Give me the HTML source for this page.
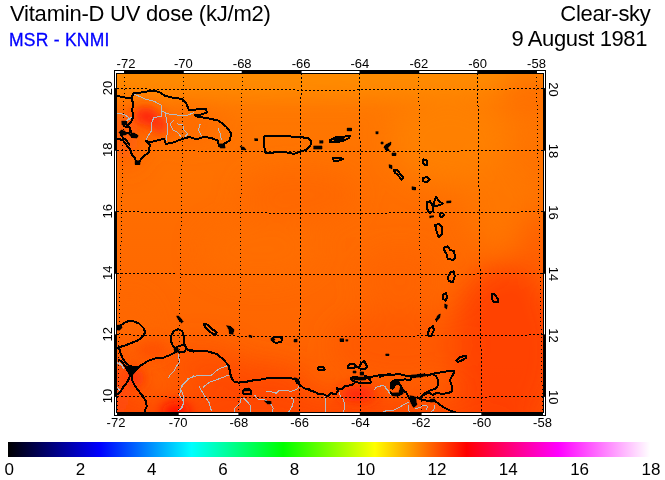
<!DOCTYPE html>
<html lang="en"><head><meta charset="utf-8"><title>Vitamin-D UV dose</title>
<style>
html,body{margin:0;padding:0;background:#fff;}
body{width:665px;height:480px;overflow:hidden;position:relative;font-family:"Liberation Sans",Arial,Helvetica,sans-serif;color:#000;}
.t{position:absolute;white-space:nowrap;line-height:1;}
#title{left:10px;top:3px;font-size:22px;letter-spacing:-0.22px;}
#src{left:9px;top:31.8px;font-size:17.5px;letter-spacing:0.25px;color:#0000ff;-webkit-text-stroke:0.3px #0000ff;}
#sky{right:14.5px;top:3px;font-size:22px;letter-spacing:-0.3px;text-align:right;}
#date{right:18px;top:27.7px;font-size:22px;letter-spacing:-0.4px;text-align:right;}
svg{position:absolute;left:0;top:0;}
svg text{font-family:"Liberation Sans",Arial,Helvetica,sans-serif;fill:#000;}
</style></head><body>
<svg width="665" height="480" viewBox="0 0 665 480">
<defs>
<clipPath id="mc"><rect x="117" y="74" width="426" height="338"/></clipPath>
<filter id="bl" x="-20%" y="-20%" width="140%" height="140%"><feGaussianBlur stdDeviation="14"/></filter>
<filter id="b2" x="-20%" y="-20%" width="140%" height="140%"><feGaussianBlur stdDeviation="6"/></filter>
<linearGradient id="bg" x1="0" y1="0" x2="0" y2="1">
<stop offset="0" stop-color="#ff8600"/><stop offset="0.10" stop-color="#ff7800"/><stop offset="0.45" stop-color="#ff6c00"/><stop offset="0.75" stop-color="#ff6600"/><stop offset="0.9" stop-color="#ff6200"/><stop offset="1" stop-color="#ff5600"/>
</linearGradient>
<linearGradient id="cb" x1="0" y1="0" x2="1" y2="0">
<stop offset="0" stop-color="#000"/><stop offset="0.142857" stop-color="#00f"/><stop offset="0.285714" stop-color="#0ff"/><stop offset="0.428571" stop-color="#0f0"/><stop offset="0.571429" stop-color="#ff0"/><stop offset="0.714286" stop-color="#f00"/><stop offset="0.857143" stop-color="#f0f"/><stop offset="1" stop-color="#fff"/>
</linearGradient>
</defs>
<rect x="114" y="70" width="432" height="346" fill="#000"/>
<g clip-path="url(#mc)">
<rect x="117" y="74" width="426" height="338" fill="url(#bg)"/>
<g filter="url(#bl)"><ellipse cx="300" cy="66" rx="260" ry="26" fill="#ff8c00" opacity="1"/><ellipse cx="450" cy="140" rx="60" ry="45" fill="#ff8400" opacity="0.7"/><ellipse cx="505" cy="205" rx="40" ry="45" fill="#ff7a00" opacity="0.7"/><ellipse cx="530" cy="92" rx="30" ry="22" fill="#ff6a00" opacity="0.8"/><ellipse cx="535" cy="250" rx="18" ry="40" fill="#ff5a00" opacity="0.7"/><ellipse cx="125" cy="135" rx="14" ry="30" fill="#ff5010" opacity="0.9"/><ellipse cx="190" cy="125" rx="35" ry="15" fill="#ff6008" opacity="0.6"/><ellipse cx="300" cy="195" rx="60" ry="25" fill="#ff6400" opacity="0.6"/><ellipse cx="260" cy="250" rx="60" ry="30" fill="#ff7200" opacity="0.5"/><ellipse cx="400" cy="280" rx="40" ry="30" fill="#ff6000" opacity="0.6"/><ellipse cx="300" cy="440" rx="240" ry="42" fill="#ff4a00" opacity="1"/><ellipse cx="505" cy="350" rx="55" ry="85" fill="#ff3e00" opacity="0.9"/><ellipse cx="250" cy="385" rx="60" ry="22" fill="#ff4408" opacity="0.8"/><ellipse cx="200" cy="365" rx="40" ry="20" fill="#ff4c08" opacity="0.7"/><ellipse cx="130" cy="330" rx="20" ry="30" fill="#ff6a00" opacity="0.7"/><ellipse cx="118" cy="385" rx="14" ry="40" fill="#ff4408" opacity="0.9"/><ellipse cx="400" cy="345" rx="70" ry="35" fill="#ff5400" opacity="0.6"/></g>
<g filter="url(#b2)"><ellipse cx="146" cy="116" rx="12" ry="9" fill="#ff2010" opacity="1"/><ellipse cx="160" cy="125" rx="9" ry="9" fill="#ff2810" opacity="0.9"/><ellipse cx="176" cy="412" rx="14" ry="10" fill="#ff1000" opacity="1"/><ellipse cx="135" cy="378" rx="10" ry="9" fill="#ff3008" opacity="0.9"/><ellipse cx="152" cy="350" rx="16" ry="10" fill="#ff4808" opacity="0.7"/><ellipse cx="358" cy="394" rx="18" ry="8" fill="#ff2808" opacity="1"/></g>
<g fill="none" stroke="#b4bcc4" stroke-width="1" stroke-linejoin="round" shape-rendering="crispEdges">
<path d="M133.5 93.8 L139.0 96.2 L146.5 99.5 L154.0 101.2 L161.0 105.0 L162.0 111.2 L161.5 116.2 L154.0 117.5 L151.0 123.8 L152.0 130.0 L147.8 136.2 L146.0 141.2"/><path d="M162.0 111.2 L167.8 113.8 L176.5 115.0 L186.5 115.8 L194.0 112.5"/><path d="M165.2 113.0 L166.5 120.0 L167.8 127.5 L167.0 135.0 L165.8 142.5"/><path d="M174.0 120.0 L170.2 123.8 L172.8 130.0 L177.8 132.5 L181.5 137.5"/><path d="M176.5 123.8 L182.8 125.0 L184.0 130.0 L187.8 133.8 L185.2 136.2"/><path d="M200.2 123.8 L198.5 130.0 L201.5 136.2"/><path d="M217.8 127.5 L220.2 133.8 L221.5 140.0"/><path d="M117.0 113.0 L124.0 114.5 L129.0 117.5 L126.5 121.2"/><path d="M133.5 115.5 L125.2 122.5"/><path d="M116.5 364.1 L119.6 362.9 L122.1 365.4 L124.6 366.0"/><path d="M179.6 351.6 L178.4 356.0 L179.6 362.2 L176.5 366.0 L174.0 371.0 L170.2 374.8 L168.4 377.9"/><path d="M117.1 386.9 L120.2 391.2"/><path d="M194.0 375.6 L189.0 378.8 L184.0 383.8 L180.2 388.8 L182.8 393.8 L184.0 401.2 L182.1 407.5 L177.8 411.2"/><path d="M227.8 365.5 L219.0 368.8 L211.5 375.0 L199.0 375.0 L187.8 378.8 L181.5 386.2 L179.5 395.0 L184.0 402.5 L180.2 410.0"/><path d="M199.0 386.2 L204.0 395.0 L209.0 402.5 L211.5 411.2"/><path d="M229.0 375.0 L219.0 378.8 L209.0 382.5 L202.8 387.5"/><path d="M117.0 362.5 L121.5 365.5 L124.0 368.8"/><path d="M265.6 392.0 L270.0 391.4 L276.2 393.2 L278.8 390.8 L285.0 390.1 L291.2 391.4 L297.5 388.9 L300.0 385.1"/><path d="M254.4 395.1 L258.8 399.5 L266.2 400.1 L271.2 404.5 L273.1 408.2 L272.5 412.0"/><path d="M243.8 398.2 L247.5 402.0 L250.6 405.8 L250.0 412.0"/><path d="M241.2 398.2 L240.0 403.2 L235.0 408.2 L234.4 412.0"/><path d="M290.0 397.0 L293.8 399.5 L292.5 405.8 L288.8 412.0"/><path d="M323.8 394.4 L325.6 398.8 L325.0 403.8 L326.0 412.5"/><path d="M338.8 391.9 L340.6 396.2 L343.8 400.0 L344.4 405.0 L343.8 412.5"/><path d="M374.4 390.0 L375.6 387.5 L381.2 385.6 L385.0 386.2 L387.5 390.0 L390.0 393.1"/><path d="M380.0 386.2 L383.8 385.6 L387.5 390.6 L390.6 395.0"/><path d="M382.5 412.5 L387.5 410.0 L393.8 410.0 L400.0 406.9 L405.0 403.8 L408.8 402.5"/><path d="M408.8 405.0 L408.1 410.0 L410.0 412.5"/><path d="M415.0 408.8 L420.0 407.5 L423.8 405.0 L427.5 406.2 L426.2 410.0"/><path d="M435.0 405.0 L433.8 410.0 L430.0 412.5"/>
</g>
<g fill="none" stroke="#000" stroke-width="1" stroke-dasharray="2 2" shape-rendering="crispEdges">
<path d="M301.1 73.0 L299.6 412.0"/><path d="M359.9 73.0 L360.4 412.0"/><path d="M477.6 73.0 L481.8 412.0"/><path d="M117.0 396.4 L147.0 396.8 L177.0 397.1 L207.0 397.3 L237.0 397.5 L267.0 397.7 L297.0 397.8 L327.0 397.8 L357.0 397.8 L387.0 397.7 L417.0 397.6 L447.0 397.4 L477.0 397.1 L507.0 396.8 L537.0 396.5 L543.0 396.4"/><path d="M117.0 334.8 L147.0 335.2 L177.0 335.5 L207.0 335.8 L237.0 336.0 L267.0 336.1 L297.0 336.2 L327.0 336.2 L357.0 336.2 L387.0 336.1 L417.0 336.0 L447.0 335.8 L477.0 335.6 L507.0 335.3 L537.0 334.9 L543.0 334.8"/><path d="M117.0 273.3 L147.0 273.6 L177.0 274.0 L207.0 274.2 L237.0 274.4 L267.0 274.6 L297.0 274.6 L327.0 274.7 L357.0 274.7 L387.0 274.6 L417.0 274.4 L447.0 274.3 L477.0 274.0 L507.0 273.7 L537.0 273.4 L543.0 273.3"/><path d="M117.0 211.7 L147.0 212.1 L177.0 212.4 L207.0 212.7 L237.0 212.9 L267.0 213.0 L297.0 213.1 L327.0 213.1 L357.0 213.1 L387.0 213.0 L417.0 212.9 L447.0 212.7 L477.0 212.5 L507.0 212.2 L537.0 211.8 L543.0 211.7"/><path d="M117.0 150.2 L147.0 150.5 L177.0 150.8 L207.0 151.1 L237.0 151.3 L267.0 151.4 L297.0 151.5 L327.0 151.6 L357.0 151.5 L387.0 151.5 L417.0 151.3 L447.0 151.1 L477.0 150.9 L507.0 150.6 L537.0 150.2 L543.0 150.2"/><path d="M117.0 88.6 L147.0 89.0 L177.0 89.3 L207.0 89.5 L237.0 89.7 L267.0 89.9 L297.0 90.0 L327.0 90.0 L357.0 90.0 L387.0 89.9 L417.0 89.8 L447.0 89.6 L477.0 89.3 L507.0 89.0 L537.0 88.7 L543.0 88.6"/>
</g>
<g fill="none" stroke="#000" stroke-width="1" stroke-dasharray="1 3" shape-rendering="crispEdges">
<path d="M124.5 73.0 L117.5 412.0"/><path d="M183.4 73.0 L178.2 412.0"/><path d="M242.2 73.0 L238.9 412.0"/><path d="M418.8 73.0 L421.1 412.0"/><path d="M536.5 73.0 L542.5 412.0"/>
</g>
<g fill="none" stroke="#000" stroke-width="2" stroke-linejoin="round" stroke-linecap="round" shape-rendering="crispEdges">
<path d="M117.0 95.8 L125.2 97.5 L131.5 98.0 L133.5 93.0 L141.5 92.5 L152.8 90.5 L159.0 92.0 L165.2 95.8 L174.0 98.0 L182.0 98.8 L186.5 103.8 L189.0 110.0 L196.5 109.5 L206.0 109.2 L207.0 112.5 L201.5 114.5 L194.5 115.0 L197.8 116.8 L207.8 118.2 L219.0 120.8 L226.5 127.0 L231.5 133.8 L229.5 140.5 L224.0 144.0 L222.8 147.5 L219.0 146.2 L218.0 140.8 L211.5 138.0 L204.0 137.0 L196.5 139.2 L189.0 137.0 L179.5 140.0 L172.0 143.0 L165.8 143.8 L164.0 138.8 L158.5 140.0 L151.5 142.0 L146.0 141.2 L149.8 145.0 L148.5 152.5 L142.0 157.5 L139.0 163.0 L136.0 162.0 L134.8 157.5 L132.0 155.0 L130.2 149.5 L126.5 145.0 L122.8 140.0 L117.0 138.8"/><path d="M131.5 98.0 L133.5 105.0 L132.0 110.0 L133.5 116.2 L131.5 121.2 L127.8 125.0 L122.8 123.8 L124.0 126.2 L129.5 127.5 L131.0 132.0 L125.2 133.8 L121.0 134.5 L122.8 137.5 L126.5 140.5 L129.5 145.0"/><path d="M264.5 136.2 L274.0 135.5 L286.5 136.2 L299.0 137.0 L307.8 138.0 L311.5 141.2 L310.2 146.2 L306.0 150.0 L299.0 152.0 L294.0 153.8 L284.0 152.0 L274.0 152.5 L265.2 152.5 L264.0 145.0Z"/><path d="M329.5 140.5 L335.2 137.5 L342.8 137.0 L350.2 135.5 L349.0 138.0 L342.8 141.2 L335.2 142.0 L330.2 142.0Z"/><path d="M332.8 158.0 L337.8 157.5 L343.5 158.8 L339.5 160.5 L334.0 161.0Z"/><path d="M394.0 169.5 L397.0 170.0 L400.2 173.8 L403.5 178.0 L401.5 179.5 L397.8 175.0 L394.8 172.5Z"/><path d="M423.5 159.5 L426.5 160.5 L427.5 164.5 L425.0 165.5 L423.0 162.5Z"/><path d="M423.0 178.0 L427.0 177.0 L429.5 179.5 L427.5 182.0 L423.5 181.5Z"/><path d="M426.5 202.5 L430.2 201.2 L432.8 206.2 L432.8 211.2 L429.5 213.0 L427.0 208.8Z"/><path d="M433.5 203.8 L436.0 197.0 L439.0 201.2 L442.8 203.8 L437.8 205.5 L433.5 206.2Z"/><path d="M439.5 214.0 L442.0 212.5 L444.0 214.5 L442.5 217.0 L440.0 216.5Z"/><path d="M435.2 225.0 L439.0 223.8 L442.2 227.5 L441.5 235.0 L438.5 237.0 L436.5 231.2Z"/><path d="M444.0 247.5 L447.8 246.2 L450.2 250.0 L454.0 251.2 L455.2 257.5 L452.8 260.0 L447.8 258.8 L446.5 253.8 L444.0 250.0Z"/><path d="M450.2 272.5 L453.5 271.2 L454.8 276.2 L452.8 282.0 L449.0 281.2 L447.8 277.5Z"/><path d="M443.0 294.5 L446.0 293.0 L447.2 297.0 L445.5 300.5 L443.0 298.8Z"/><path d="M429.0 328.8 L432.8 326.2 L434.0 330.0 L431.5 335.5 L427.8 335.5Z"/><path d="M491.5 294.5 L494.0 293.8 L497.8 298.8 L497.8 302.5 L494.0 302.0 L491.5 298.8Z"/><path d="M117.1 326.6 L121.5 324.8 L126.5 321.6 L132.8 321.0 L139.0 323.5 L143.4 327.9 L145.2 332.2 L142.8 336.6 L137.8 340.4 L131.5 342.9 L125.2 345.4 L119.0 347.2 L117.1 347.9"/><path d="M119.0 347.2 L120.2 352.2 L122.1 357.2 L125.2 362.2 L129.0 365.4 L134.0 367.2 L138.4 367.2 L142.8 364.1 L149.0 360.4 L155.2 358.5 L162.8 357.9 L169.0 355.4 L174.0 352.9 L176.5 349.8 L172.8 346.0 L170.9 341.0 L171.5 334.8 L174.0 331.0 L178.4 329.1 L182.1 331.0 L184.0 336.0 L184.0 341.0 L184.6 344.8 L181.5 345.4 L177.8 346.6 L175.2 349.1"/><path d="M176.5 350.0 L180.2 352.5 L184.0 352.2 L186.5 348.5 L184.6 344.8"/><path d="M186.5 348.2 L189.0 350.4 L194.0 351.6"/><path d="M119.0 360.0 L121.5 361.2 L125.2 366.2 L128.4 371.9 L130.2 375.0 L129.0 378.8 L126.5 383.1 L123.4 386.9 L120.9 391.2 L117.8 393.8"/><path d="M138.4 367.5 L135.2 371.2 L131.5 375.0 L132.1 380.0 L135.2 386.2 L139.0 391.2 L142.8 396.2 L145.9 401.2 L146.8 406.2 L144.6 411.5"/><path d="M204.0 324.0 L207.0 324.5 L212.8 329.5 L217.0 332.5 L215.2 335.0 L210.2 332.0 L205.2 327.5Z"/><path d="M187.8 350.0 L196.5 350.8 L206.5 351.2 L216.5 353.8 L224.0 360.0 L229.0 366.2 L230.2 373.8 L232.5 379.5"/><path d="M230.0 372.0 L231.2 377.0 L233.8 381.4 L238.8 382.6 L245.0 382.0 L252.5 380.5 L260.0 379.8 L267.5 378.2 L275.0 377.6 L282.5 377.6 L290.0 378.2 L295.0 378.9 L296.9 382.6 L300.0 384.8 L303.8 388.2 L310.0 389.5"/><path d="M242.5 391.8 L244.4 389.2 L248.8 388.5 L251.5 391.0 L251.2 393.9 L243.8 393.9Z"/><path d="M308.8 390.2 L310.0 390.6 L315.0 391.9 L318.8 394.4 L323.8 394.4 L327.5 396.2 L331.2 393.1 L335.6 394.4 L338.1 390.6 L336.9 388.1 L338.8 389.4 L342.5 388.8 L345.0 386.2 L348.8 385.6 L352.5 384.8 L355.0 382.5"/><path d="M317.5 368.1 L320.0 366.9 L323.8 367.5 L324.8 369.4 L322.5 370.4 L318.8 370.0Z"/><path d="M347.5 366.2 L350.0 364.0 L353.8 363.8 L355.6 365.6 L353.8 368.1 L350.0 368.5 L347.5 367.5Z"/><path d="M359.4 366.2 L361.9 362.5 L364.4 360.6 L365.6 363.8 L367.5 366.9 L365.6 368.8 L361.9 369.4 L359.4 368.1Z"/><path d="M355.2 366.5 L359.5 367.5"/><path d="M351.2 377.8 L353.8 376.9 L360.0 377.8 L365.0 377.8 L370.0 378.8 L370.9 382.5 L368.8 383.5 L362.5 383.1 L356.2 382.2 L352.5 380.6 L351.2 378.8Z"/><path d="M365.0 376.2 L370.0 376.9 L375.0 376.2 L380.0 375.0 L385.0 374.8 L390.0 374.0"/><path d="M380.0 376.9 L385.0 375.0 L392.5 375.0 L398.8 373.8 L405.0 375.6 L412.5 376.2 L418.8 375.6 L425.0 374.4 L427.5 375.6 L432.5 373.8 L440.0 372.5 L447.5 371.2 L453.8 370.6 L454.4 372.5 L451.9 376.2 L450.0 380.0 L451.9 386.2 L451.9 391.2 L448.8 393.1 L442.5 393.8 L436.2 393.1 L432.5 395.0 L429.4 392.5 L423.8 395.0 L421.2 396.5"/><path d="M432.5 373.8 L436.2 376.2 L438.1 380.0 L437.5 386.2 L435.0 388.8 L430.0 390.6 L426.2 392.5 L422.5 395.0"/><path d="M412.5 376.2 L410.0 380.0 L405.0 379.4 L398.8 380.0 L393.8 380.6 L391.2 383.1 L390.6 387.5 L392.5 388.8 L395.0 385.0 L398.8 383.1 L401.2 386.2 L402.5 390.0 L401.2 393.8 L397.5 395.6 L392.5 395.0 L390.6 392.5"/><path d="M402.5 390.0 L406.2 392.5 L408.8 397.5 L411.2 401.2"/><path d="M417.5 397.5 L422.5 400.0 L430.0 401.2 L433.8 400.0 L438.8 403.8 L443.8 407.5 L450.0 410.6 L455.0 412.2"/><path d="M456.0 360.5 L460.2 357.0 L466.0 355.8 L466.0 358.0 L461.5 360.5 L457.8 362.0Z"/><path d="M272.8 337.5 L277.8 336.5 L282.0 338.0 L281.5 341.5 L276.5 343.0 L272.8 341.5Z"/>
</g>
<g fill="#000" stroke="#000" stroke-width="0.6" stroke-linejoin="round" shape-rendering="crispEdges">
<path d="M128.5 133.8 L134.0 133.0 L138.2 135.5 L137.0 138.0 L131.5 137.5Z"/><path d="M121.0 130.0 L125.2 131.2 L126.5 134.5 L121.5 135.5 L119.0 132.5Z"/><path d="M121.5 121.2 L126.5 121.2 L127.0 124.5 L122.0 125.0Z"/><path d="M219.0 143.8 L224.0 143.8 L225.2 148.0 L220.2 148.0Z"/><path d="M240.2 146.2 L244.5 147.5 L246.0 150.0 L242.0 149.5Z"/><path d="M254.5 138.5 L257.5 138.5 L257.5 140.5 L254.5 140.5Z"/><path d="M135.2 160.5 L140.0 160.5 L140.0 164.5 L135.2 164.5Z"/><path d="M313.5 146.0 L322.0 146.0 L322.0 149.0 L313.5 149.0Z"/><path d="M319.5 140.5 L323.0 140.5 L323.0 143.2 L319.5 143.2Z"/><path d="M334.0 138.0 L344.0 137.0 L343.5 141.0 L334.5 141.5Z"/><path d="M347.2 128.2 L351.5 128.2 L351.5 130.8 L347.2 130.8Z"/><path d="M375.8 131.5 L378.2 131.5 L378.2 133.8 L375.8 133.8Z"/><path d="M381.0 142.0 L383.2 142.0 L383.2 144.0 L381.0 144.0Z"/><path d="M385.2 145.0 L391.0 142.0 L390.5 145.0 L387.8 148.0 L389.5 150.5 L386.0 150.5 L384.0 147.5Z"/><path d="M392.0 153.0 L396.0 153.0 L396.0 155.5 L392.0 155.5Z"/><path d="M389.0 164.5 L392.0 165.5 L392.0 168.8 L389.5 168.0Z"/><path d="M412.0 186.5 L415.5 187.5 L415.5 190.0 L412.0 189.5Z"/><path d="M446.5 201.2 L451.0 200.8 L451.0 202.5 L446.5 203.0Z"/><path d="M429.5 216.0 L433.5 215.5 L433.5 217.2 L429.5 217.8Z"/><path d="M444.5 304.0 L447.5 305.0 L446.5 309.0 L444.5 307.5Z"/><path d="M438.0 315.0 L440.5 314.0 L439.5 318.0 L436.5 321.5 L435.5 319.5Z"/><path d="M117.1 325.4 L120.9 324.8 L122.1 327.9 L119.6 330.4 L117.1 330.0Z"/><path d="M173.8 348.8 L178.0 347.9 L179.0 351.6 L175.5 352.9Z"/><path d="M176.5 316.0 L179.0 316.2 L183.4 321.6 L181.5 322.9 L178.4 319.8Z"/><path d="M125.0 365.6 L134.0 366.9 L139.0 366.9 L135.9 371.0 L132.1 375.6 L129.6 375.6 L128.0 371.9Z"/><path d="M226.5 325.5 L230.5 326.5 L234.0 329.5 L233.0 334.5 L229.5 333.5 L229.0 330.0Z"/><path d="M249.0 335.2 L252.0 335.8 L251.5 337.5 L249.0 337.0Z"/><path d="M271.0 338.0 L275.0 339.0 L274.0 341.0 L271.0 340.5Z"/><path d="M294.4 377.6 L298.5 378.9 L299.0 383.2 L296.2 382.6Z"/><path d="M243.5 389.5 L248.8 388.2 L251.5 390.5 L243.5 391.0Z"/><path d="M264.4 401.0 L271.2 401.5 L271.2 404.0 L267.5 403.8Z"/><path d="M353.1 371.0 L356.0 371.0 L356.0 373.0 L353.1 373.0Z"/><path d="M360.2 371.9 L363.5 371.9 L363.5 375.2 L360.2 375.2Z"/><path d="M351.9 376.9 L365.0 377.2 L365.6 379.8 L360.0 380.2 L352.5 379.4Z"/><path d="M385.6 354.0 L389.0 354.0 L389.0 355.5 L385.6 355.5Z"/><path d="M411.2 375.0 L425.0 373.8 L425.6 376.2 L418.8 377.2 L412.8 377.8Z"/><path d="M391.0 381.9 L398.8 380.6 L400.0 384.4 L395.0 384.8 L393.8 388.5 L390.6 388.5Z"/><path d="M400.6 386.9 L403.8 389.4 L403.1 393.8 L397.5 396.2 L391.9 395.6 L391.5 393.1 L398.8 392.5Z"/><path d="M409.8 395.6 L415.6 396.9 L416.9 405.0 L413.5 407.5 L410.6 402.5Z"/><path d="M430.0 399.4 L434.4 398.8 L435.6 401.5 L430.6 402.2Z"/><path d="M340.0 338.5 L343.5 338.5 L343.5 341.5 L340.0 341.5Z"/><path d="M345.8 339.5 L347.8 339.5 L347.8 341.2 L345.8 341.2Z"/><path d="M294.0 339.5 L297.2 339.2 L297.2 341.8 L294.0 342.0Z"/>
</g>
</g>
<rect x="115.0" y="71.0" width="9.0" height="2.0" fill="#fff"/><rect x="183.8" y="71.0" width="57.9" height="2.0" fill="#fff"/><rect x="301.6" y="71.0" width="57.9" height="2.0" fill="#fff"/><rect x="419.3" y="71.0" width="57.9" height="2.0" fill="#fff"/><rect x="537.0" y="71.0" width="8.0" height="2.0" fill="#fff"/><rect x="115.0" y="413.0" width="2.0" height="2.0" fill="#fff"/><rect x="178.7" y="413.0" width="59.7" height="2.0" fill="#fff"/><rect x="300.1" y="413.0" width="59.7" height="2.0" fill="#fff"/><rect x="421.6" y="413.0" width="59.7" height="2.0" fill="#fff"/><rect x="543.0" y="413.0" width="2.0" height="2.0" fill="#fff"/><rect x="115.0" y="71.0" width="1.0" height="17.1" fill="#fff"/><rect x="115.0" y="150.7" width="1.0" height="60.6" fill="#fff"/><rect x="115.0" y="273.8" width="1.0" height="60.6" fill="#fff"/><rect x="115.0" y="396.9" width="1.0" height="18.1" fill="#fff"/><rect x="544.0" y="71.0" width="1.0" height="17.1" fill="#fff"/><rect x="544.0" y="150.7" width="1.0" height="60.6" fill="#fff"/><rect x="544.0" y="273.8" width="1.0" height="60.6" fill="#fff"/><rect x="544.0" y="396.9" width="1.0" height="18.1" fill="#fff"/>
<g font-size="13">
<text x="126.0" y="67.8" text-anchor="middle">-72</text><text x="116.0" y="426.7" text-anchor="middle">-72</text><text x="183.4" y="67.8" text-anchor="middle">-70</text><text x="178.2" y="426.7" text-anchor="middle">-70</text><text x="242.2" y="67.8" text-anchor="middle">-68</text><text x="238.9" y="426.7" text-anchor="middle">-68</text><text x="301.1" y="67.8" text-anchor="middle">-66</text><text x="299.6" y="426.7" text-anchor="middle">-66</text><text x="359.9" y="67.8" text-anchor="middle">-64</text><text x="360.4" y="426.7" text-anchor="middle">-64</text><text x="418.8" y="67.8" text-anchor="middle">-62</text><text x="421.1" y="426.7" text-anchor="middle">-62</text><text x="477.6" y="67.8" text-anchor="middle">-60</text><text x="481.8" y="426.7" text-anchor="middle">-60</text><text x="536.5" y="67.8" text-anchor="middle">-58</text><text x="542.5" y="426.7" text-anchor="middle">-58</text><text transform="translate(111.5,395.9) rotate(-90)" text-anchor="middle">10</text><text transform="translate(549.3,397.2) rotate(90)" text-anchor="middle">10</text><text transform="translate(111.5,334.3) rotate(-90)" text-anchor="middle">12</text><text transform="translate(549.3,335.6) rotate(90)" text-anchor="middle">12</text><text transform="translate(111.5,272.8) rotate(-90)" text-anchor="middle">14</text><text transform="translate(549.3,274.1) rotate(90)" text-anchor="middle">14</text><text transform="translate(111.5,211.2) rotate(-90)" text-anchor="middle">16</text><text transform="translate(549.3,212.5) rotate(90)" text-anchor="middle">16</text><text transform="translate(111.5,149.7) rotate(-90)" text-anchor="middle">18</text><text transform="translate(549.3,151.0) rotate(90)" text-anchor="middle">18</text><text transform="translate(111.5,88.1) rotate(-90)" text-anchor="middle">20</text><text transform="translate(549.3,89.4) rotate(90)" text-anchor="middle">20</text>
</g>
<rect x="8" y="442" width="642" height="15" fill="url(#cb)"/>
<g font-size="17"><text x="9.2" y="475" text-anchor="middle">0</text><text x="80.5" y="475" text-anchor="middle">2</text><text x="151.8" y="475" text-anchor="middle">4</text><text x="223.1" y="475" text-anchor="middle">6</text><text x="294.4" y="475" text-anchor="middle">8</text><text x="365.7" y="475" text-anchor="middle">10</text><text x="437.0" y="475" text-anchor="middle">12</text><text x="508.3" y="475" text-anchor="middle">14</text><text x="579.6" y="475" text-anchor="middle">16</text><text x="650.9" y="475" text-anchor="middle">18</text></g>
</svg>
<div class="t" id="title">Vitamin-D UV dose (kJ/m2)</div>
<div class="t" id="src">MSR - KNMI</div>
<div class="t" id="sky">Clear-sky</div>
<div class="t" id="date">9 August 1981</div>
</body></html>
